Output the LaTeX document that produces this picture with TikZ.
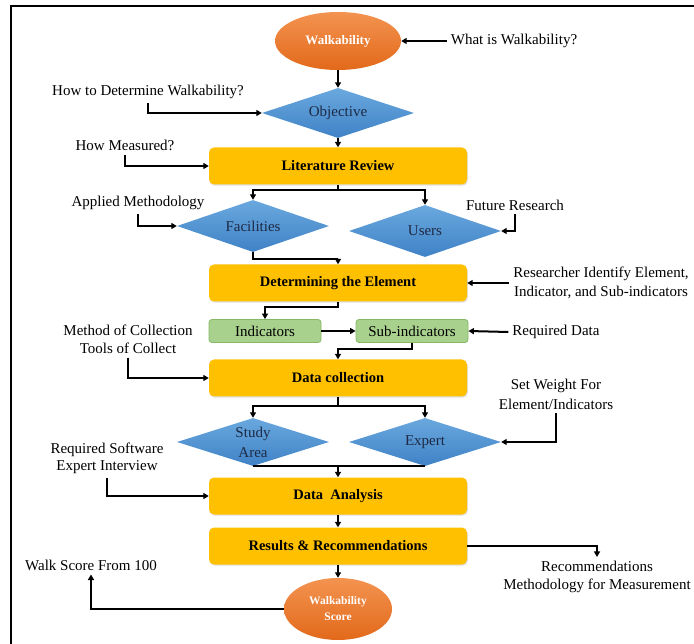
\documentclass[tikz,border=0pt]{standalone}
\usepackage{fontspec}
\setmainfont{Liberation Serif}
\usetikzlibrary{shapes.geometric,arrows.meta,shadows}

\definecolor{gold}{HTML}{FFC000}
\definecolor{orangetop}{HTML}{F39350}
\definecolor{orangebot}{HTML}{E2691A}
\definecolor{bluetop}{HTML}{6AA8DE}
\definecolor{bluebot}{HTML}{3F82C6}
\definecolor{greenfill}{HTML}{A9D18E}
\definecolor{greenline}{HTML}{86B866}
\definecolor{navytext}{HTML}{1E2A44}

\begin{document}
\begin{tikzpicture}[x=1pt,y=-1pt,
  txt/.style={font=\fontsize{15}{18}\selectfont, inner sep=4pt, align=center},
  goldbox/.style={rounded corners=5pt, fill=gold, minimum width=258pt, minimum height=37pt,
    font=\fontsize{14.5}{17}\selectfont\bfseries,
    drop shadow={shadow xshift=0.8pt, shadow yshift=-1.2pt, opacity=0.25}},
  greenbox/.style={rounded corners=3pt, fill=greenfill, draw=greenline, line width=0.8pt,
    minimum width=112pt, minimum height=23pt, font=\fontsize{15}{18}\selectfont},
  decision/.style={diamond, aspect=3, inner sep=0pt, minimum width=152pt, minimum height=50pt,
    top color=bluetop, bottom color=bluebot, text=navytext, align=center,
    font=\fontsize{15}{17}\selectfont},
  oval/.style={ellipse, inner sep=0pt, top color=orangetop, bottom color=orangebot,
    text=white, align=center},
  link/.style={line width=2pt, line join=miter},
  arr/.style={link, -{Triangle[length=5.5pt,width=6pt]}}
]
\useasboundingbox (0,0) rectangle (694,644);

% open frame: top and left edges
\draw[line width=2.4pt] (11,646) -- (11,6) -- (696,6);

% main flow
\node[oval, minimum width=126pt, minimum height=58pt,
      font=\fontsize{13}{15}\selectfont\bfseries] (wk) at (338,41) {Walkability};
\node[decision] (obj) at (338,113) {Objective};
\node[goldbox] (lit) at (338,166) {Literature Review};
\node[decision, minimum height=52pt] (fac) at (253,226) {Facilities};
\node[decision, minimum height=52pt] (usr) at (425,231) {Users};
\node[goldbox] (det) at (338,283) {Determining the Element};
\node[greenbox] (ind) at (265,331) {Indicators};
\node[greenbox] (sub) at (412,331) {Sub-indicators};
\node[goldbox] (dc) at (338,378) {Data collection};
\node[decision, minimum height=48pt, font=\fontsize{15}{20}\selectfont] (sa) at (253,442) {Study\\Area};
\node[decision, minimum height=48pt] (exp) at (425,442) {Expert};
\node[goldbox] (da) at (338,496) {Data\ \ Analysis};
\node[goldbox] (rr) at (338,546) {Results \& Recommendations};
\node[oval, minimum width=108pt, minimum height=62pt,
      font=\fontsize{11.5}{16}\selectfont\bfseries] (ws) at (338,609) {Walkability\\Score};

% side questions and notes
\node[txt] (q1) at (514,41) {What is Walkability?};
\node[txt] (q2) at (148,92) {How to Determine Walkability?};
\node[txt] (q3) at (125,145) {How Measured?};
\node[txt] (q4) at (138,203) {Applied Methodology};
\node[txt] (q5) at (515,205) {Future Research};
\node[txt, font=\fontsize{15}{19}\selectfont] (q6) at (601,283) {Researcher Identify Element,\\Indicator, and Sub-indicators};
\node[txt] (q7) at (556,332) {Required Data};
\node[txt, font=\fontsize{15}{18}\selectfont] (q8) at (128,339) {Method of Collection\\Tools of Collect};
\node[txt, font=\fontsize{15}{20}\selectfont] (q9) at (556,394) {Set Weight For\\Element/Indicators};
\node[txt, font=\fontsize{15}{17}\selectfont] (q10) at (107,458) {Required Software\\Expert Interview};
\node[txt, font=\fontsize{15}{18}\selectfont] (q11) at (597,577) {Recommendations\\Methodology for Measurement};
\node[txt] (q12) at (91,565) {Walk Score From 100};

% main connectors
\draw[arr] (wk.south) -- (obj.north);
\draw[arr] (obj.south) -- (lit.north);
\draw[link] (lit.south) -- ++(0,5) coordinate (s1);
\draw[arr] (s1) -| (fac.north);
\draw[arr] (s1) -| (usr.north);
\draw[arr] (fac.south) -- ++(0,7) -| (det.north);
\draw[arr] (det.south) -- ++(0,5) -| (ind.north);
\draw[arr] (ind.east) -- (sub.west);
\draw[arr] (sub.south) -- ++(0,6) -| (dc.north);
\draw[link] (dc.south) -- ++(0,9) coordinate (s2);
\draw[arr] (s2) -| (sa.north);
\draw[arr] (s2) -| (exp.north);
\draw[link] (sa.south) -- (exp.south);
\draw[arr] (da.north |- sa.south) -- (da.north);
\draw[arr] (da.south) -- (rr.north);
\draw[arr] (rr.south) -- (ws.north);

% side connectors
\draw[arr] (q1.west) -- (wk.east);
\draw[arr] (q2.south) |- (obj.west);
\draw[arr] (q3.south) |- (lit.west);
\draw[arr] (q4.south) |- (fac.west);
\draw[arr] (q5.south) |- (usr.east);
\draw[arr] (q6.west) -- (det.east);
\draw[arr] (q7.west) -- (sub.east);
\draw[arr] (q8.south) |- (dc.west);
\draw[arr] (q9.south) |- (exp.east);
\draw[arr] (q10.south) |- (da.west);
\draw[arr] (rr.east) -| (q11.north);
\draw[arr] (ws.west) -| (q12.south);
\end{tikzpicture}
\end{document}
